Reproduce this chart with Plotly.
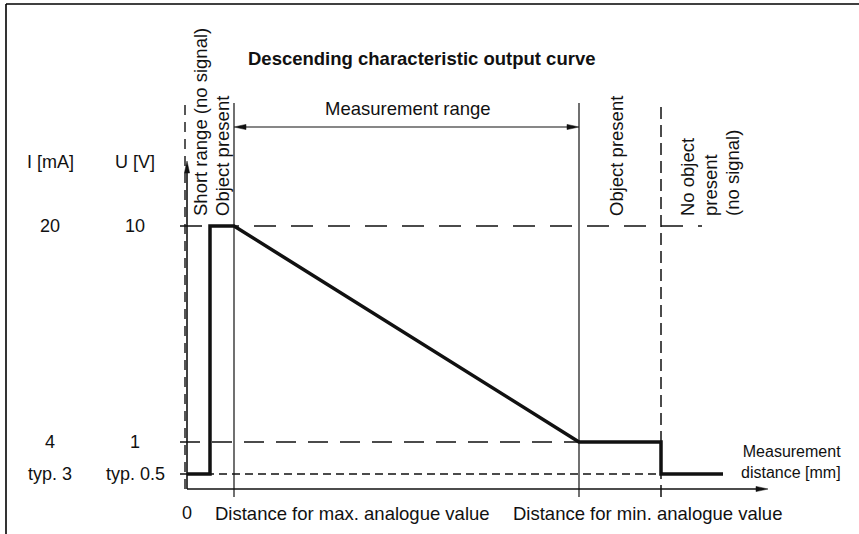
import numpy as np
import plotly.graph_objects as go

# ---------------- data (schematic values) ----------------
# distance breakpoints along the measurement axis (arbitrary schematic units)
curve_x = [0.0, 2.3, 2.3, 4.7, 39.2, 47.4, 47.4, 53.6]
# output voltage U [V] at those breakpoints
curve_u = [0.5, 0.5, 10.0, 10.0, 1.0, 1.0, 0.5, 0.5]

d_short = -0.2      # end of short range (dashed)
d_max = 4.7         # distance for max. analogue value
d_min = 39.2        # distance for min. analogue value
d_nosig = 47.4      # start of "no object present"
x_axis_end = 58.1

u_levels = [10.0, 1.0, 0.5]
u_labels = ["10", "1", "typ. 0.5"]
i_labels = ["20", "4", "typ. 3"]

# ---------------- schematic (non-linear) vertical scale ----------------
U_ANCHOR = [0.0, 0.5, 1.0, 10.0]
Y_ANCHOR = [0.0, 0.625, 1.958, 10.958]


def ypos(v):
    return np.interp(v, U_ANCHOR, Y_ANCHOR)


PX_X = 10.0   # px per x unit
PX_Y = 24.0   # px per y unit
FONT = "Liberation Sans, Arial, Helvetica, sans-serif"
BLACK = "#111111"

fig = go.Figure()


def seg(xs, ys, width=1.2, dash="solid"):
    fig.add_trace(go.Scatter(x=list(xs), y=list(ys), mode="lines",
                             line=dict(color=BLACK, width=width, dash=dash),
                             hoverinfo="skip", showlegend=False))


def px2x(px):
    return (px - 187) / PX_X


def px2y(py):
    return (489 - py) / PX_Y


y_top_lines = px2y(103)
y_below = -8 / PX_Y
y_axis_top = px2y(161)
x_left_dash = -0.7

# axes
seg([0, 0], [0, y_axis_top - 6 / PX_Y], width=1.6)
seg([0, x_axis_end - 6 / PX_X], [0, 0], width=1.6)

# vertical boundary lines
seg([d_short, d_short], [0, y_top_lines], width=1.4, dash="10px,7px")
seg([d_max, d_max], [y_below, y_top_lines], width=1.2)
seg([d_min, d_min], [y_below, y_top_lines], width=1.2)
seg([d_nosig, d_nosig], [y_below, y_top_lines], width=1.5, dash="12px,6px")

# horizontal reference lines
seg([x_left_dash, 51.5], [ypos(10), ypos(10)], width=1.5, dash="22px,15px")
seg([x_left_dash, d_nosig], [ypos(1), ypos(1)], width=1.5, dash="20px,12px")
seg([x_left_dash, d_nosig], [ypos(0.5), ypos(0.5)], width=1.3, dash="8px,5px")

# measurement range arrow
y_mr = px2y(127)
seg([d_max + 6 / PX_X, d_min - 6 / PX_X], [y_mr, y_mr], width=1.2)

# characteristic curve
seg(curve_x, ypos(curve_u), width=3.5)

shapes = []


def arrowhead(xt, yt, direction, length=12, half=2.6):
    if direction == "right":
        p = [(xt, yt), (xt - length / PX_X, yt + half / PX_Y), (xt - length / PX_X, yt - half / PX_Y)]
    elif direction == "left":
        p = [(xt, yt), (xt + length / PX_X, yt + half / PX_Y), (xt + length / PX_X, yt - half / PX_Y)]
    else:
        p = [(xt, yt), (xt - half / PX_X, yt - length / PX_Y), (xt + half / PX_X, yt - length / PX_Y)]
    path = "M{:.4f},{:.4f} L{:.4f},{:.4f} L{:.4f},{:.4f} Z".format(
        p[0][0], p[0][1], p[1][0], p[1][1], p[2][0], p[2][1])
    shapes.append(dict(type="path", xref="x", yref="y", path=path,
                       fillcolor=BLACK, line=dict(color=BLACK, width=0.5)))


arrowhead(0, y_axis_top, "up")
arrowhead(x_axis_end, 0, "right")
arrowhead(d_max, y_mr, "left")
arrowhead(d_min, y_mr, "right")

# frame (top and left)
shapes.append(dict(type="line", xref="paper", yref="paper", x0=6 / 859, x1=1,
                   y0=1 - 4 / 534, y1=1 - 4 / 534, line=dict(color="black", width=1.6)))
shapes.append(dict(type="line", xref="paper", yref="paper", x0=6 / 859, x1=6 / 859,
                   y0=0, y1=1 - 4 / 534, line=dict(color="black", width=1.6)))

annotations = []


def text(x, y, s, size=18, xanchor="center", yanchor="middle", angle=0, bold=False, align="center"):
    annotations.append(dict(x=x, y=y, xref="x", yref="y", text=("<b>%s</b>" % s) if bold else s,
                            showarrow=False, xanchor=xanchor, yanchor=yanchor, textangle=angle,
                            align=align, font=dict(family=FONT, size=size, color=BLACK),
                            borderpad=0))


text(px2x(422), px2y(58), "Descending characteristic output curve", size=18.5, bold=True)
text(px2x(408), px2y(108), "Measurement range", size=18.5)

# rotated zone labels
text(px2x(200), px2y(217), "Short range (no signal)", angle=-90, yanchor="bottom", size=18.5)
text(px2x(222), px2y(217), "Object present", angle=-90, yanchor="bottom", size=18.5)
text(px2x(616), px2y(217), "Object present", angle=-90, yanchor="bottom", size=18.5)
for cx, s in zip([687, 710, 732], ["No object", "present", "(no signal)"]):
    text(px2x(cx), px2y(217), s, angle=-90, yanchor="bottom", size=18.5)

# level labels
text(px2x(50), px2y(162), "I [mA]")
text(px2x(135), px2y(162), "U [V]")
for v, ul, il in zip(u_levels, u_labels, i_labels):
    text(px2x(135), ypos(v), ul)
    text(px2x(50), ypos(v), il)

# distance labels
text(0, px2y(513), "0")
text(px2x(352), px2y(513), "Distance for max. analogue value", size=18.5)
text(px2x(647), px2y(513), "Distance for min. analogue value", size=18.5)
text(px2x(842), px2y(462), "Measurement<br>distance [mm]", size=16, xanchor="right", align="right")

fig.update_layout(
    width=859, height=534, autosize=False,
    margin=dict(l=0, r=0, t=0, b=0),
    paper_bgcolor="white", plot_bgcolor="white",
    xaxis=dict(range=[-18.7, 67.2], visible=False, fixedrange=True),
    yaxis=dict(range=[-45 / PX_Y, 489 / PX_Y], visible=False, fixedrange=True),
    shapes=shapes, annotations=annotations, showlegend=False,
)

fig.write_html("out.html", config={"displayModeBar": False},
               post_script="document.body.style.margin='0';document.body.style.overflow='hidden';")
